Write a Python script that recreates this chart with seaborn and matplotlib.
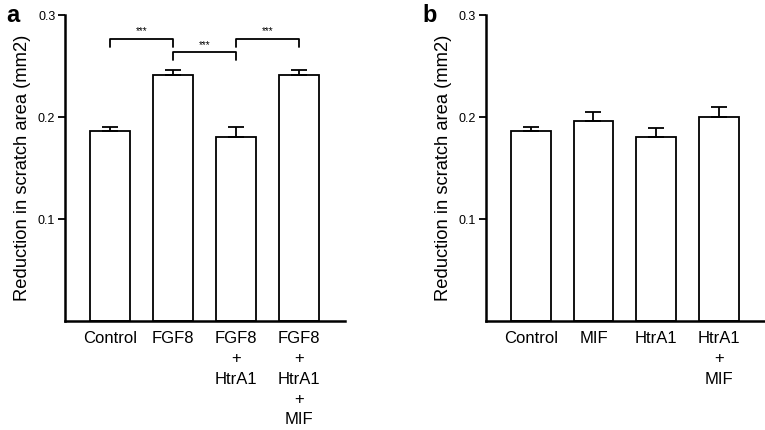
import pandas as pd
import matplotlib
matplotlib.use('Agg')
import matplotlib.pyplot as plt
import seaborn as sns

# Data
groups_a = ['Control', 'FGF8', 'FGF8\n+\nHtrA1', 'FGF8\n+\nHtrA1\n+\nMIF']
means_a = [0.1865, 0.241, 0.180, 0.241]
errs_a = [0.0035, 0.005, 0.010, 0.005]

groups_b = ['Control', 'MIF', 'HtrA1', 'HtrA1\n+\nMIF']
means_b = [0.1865, 0.196, 0.180, 0.200]
errs_b = [0.0035, 0.009, 0.009, 0.010]

# significance brackets for panel a: (left bar, right bar, bracket height)
brackets_a = [(0, 1, 0.277), (1, 2, 0.264), (2, 3, 0.277)]
bracket_drop = 0.008

y_ticks = [0.1, 0.2, 0.3]
y_label = 'Reduction in scratch area (mm2)'

sns.set_style('ticks')
plt.rcParams['font.family'] = ['Liberation Sans', 'DejaVu Sans']
plt.rcParams['text.color'] = 'black'
plt.rcParams['axes.labelcolor'] = 'black'
plt.rcParams['xtick.color'] = 'black'
plt.rcParams['ytick.color'] = 'black'
plt.rcParams['axes.edgecolor'] = 'black'

fig = plt.figure(figsize=(7.65, 4.3), dpi=100)
ax_a = fig.add_axes([0.085, 0.2535, 0.366, 0.7115])
ax_b = fig.add_axes([0.635, 0.2535, 0.365, 0.7115])


def draw_panel(ax, groups, means, errs):
    df = pd.DataFrame({'group': groups, 'value': means})
    sns.barplot(data=df, x='group', y='value', ax=ax, color='white',
                edgecolor='black', linewidth=1.3, width=0.635,
                errorbar=None, zorder=2)
    # only upper error bars
    ax.errorbar(range(len(means)), means, yerr=[[0] * len(errs), errs],
                fmt='none', ecolor='black', elinewidth=1.3, capsize=6,
                capthick=1.3, zorder=3)
    ax.set_ylim(0, 0.3)
    ax.set_xlim(-0.714, 3.73)
    ax.set_yticks(y_ticks)
    ax.set_yticklabels(['0.1', '0.2', '0.3'], fontsize=9)
    ax.tick_params(axis='y', length=5, width=1.3, pad=2)
    ax.tick_params(axis='x', length=0, labelsize=12, pad=7)
    for lbl in ax.get_xticklabels():
        lbl.set_linespacing(1.45)
    ax.set_xlabel('')
    ax.set_ylabel(y_label, fontsize=13.2, labelpad=5)
    for side in ['top', 'right']:
        ax.spines[side].set_visible(False)
    for side in ['left', 'bottom']:
        ax.spines[side].set_linewidth(1.8)


draw_panel(ax_a, groups_a, means_a, errs_a)
draw_panel(ax_b, groups_b, means_b, errs_b)

for left, right, h in brackets_a:
    ax_a.plot([left, left, right, right],
              [h - bracket_drop, h, h, h - bracket_drop],
              color='black', lw=1.3, clip_on=False)
    ax_a.text((left + right) / 2, h + 0.002, '***', ha='center', va='bottom',
              fontsize=7)

fig.text(13 / 765, 1 - 22 / 430, 'a', fontsize=17, fontweight='bold',
         ha='center', va='baseline')
fig.text(430 / 765, 1 - 22 / 430, 'b', fontsize=17, fontweight='bold',
         ha='center', va='baseline')

fig.savefig('out.png', dpi=100)
